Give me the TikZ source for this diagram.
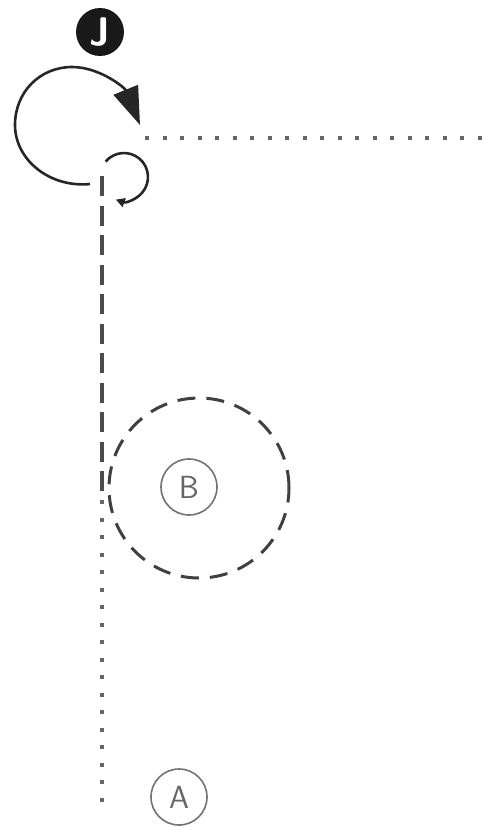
\documentclass[tikz,border=0pt]{standalone}
\usepackage{tikz}
\usetikzlibrary{arrows.meta}

\begin{document}
\begin{tikzpicture}[
    x=1pt, y=-1pt,
    tag/.style={circle, draw=black!55, line width=1.6pt, text=black!60,
                minimum size=56pt, inner sep=0pt,
                font=\fontsize{32}{32}\selectfont\sffamily},
    jtag/.style={circle, fill=black!90, text=white,
                 minimum size=48pt, inner sep=0pt,
                 font=\fontsize{40}{40}\selectfont\sffamily\bfseries},
    zone/.style={circle, draw=black!75, line width=3pt,
                 dash pattern=on 18pt off 11pt,
                 minimum size=180pt, inner sep=0pt},
    skate/.style={line width=4pt, draw=black!70, dash pattern=on 20pt off 9.5pt},
    pass/.style={line width=4pt, draw=black!60, dash pattern=on 4pt off 13.5pt},
    curl/.style={line width=2.6pt, draw=black!85,
                 -{Triangle[length=38pt,width=26pt]}},
    smallcurl/.style={line width=2.6pt, draw=black!85,
                 -{Triangle[length=9pt,width=9pt]}}
]
\useasboundingbox (0,0) rectangle (486,827);

%% --- Players and zone ---
\node[jtag] (jay)  at (100,32)  {J};
\node[zone] (zone) at (199,488) {};
\node[tag]  (bee)  at (189,487) {B};
\node[tag]  (ay)   at (179,797) {A};

%% --- Path points ---
\coordinate (cstart) at (90,184);
\coordinate (ctip)   at (140,125);
\coordinate (sstart) at (105.6,161.6);
\coordinate (top)    at (102,176);
\coordinate (turn)   at (102,500);
\coordinate (bot)    at (102,813);
\coordinate (hstart) at (145,138);
\coordinate (hend)   at (486,138);

%% --- Curls ---
\draw[curl] (cstart) .. controls (50,188) and (15,160) .. (15,125)
    .. controls (15,92) and (40,67) .. (72,67)
    .. controls (100,67) and (125,88) .. (ctip);
\draw[smallcurl] (sstart) arc[start angle=220, end angle=470, radius=24];

%% --- Skating and passing lines ---
\draw[skate] (top) -- (turn);
\draw[pass]  (turn) -- (bot);
\draw[pass]  (hstart) -- (hend);

\end{tikzpicture}
\end{document}
